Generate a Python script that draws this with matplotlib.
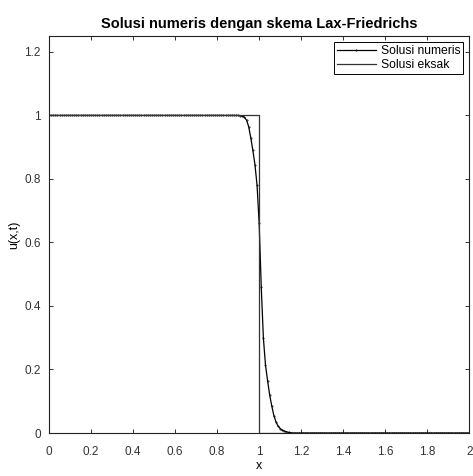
import numpy as np
import matplotlib
matplotlib.use("Agg")
import matplotlib.pyplot as plt

plt.rcParams['font.family'] = ['Liberation Sans', 'DejaVu Sans']

# grid of the numerical scheme, dx = 0.01 on [0, 2]
x_num = np.linspace(0, 2, 201)

# values across the smeared shock, x = 0.91 ... 1.15
u_front = [0.999, 0.998, 0.994, 0.985, 0.965, 0.93, 0.89, 0.845, 0.78,
           0.66, 0.46, 0.30, 0.215, 0.165, 0.12, 0.085, 0.055, 0.035,
           0.022, 0.014, 0.009, 0.006, 0.004, 0.002, 0.001]
u_num = np.concatenate([np.ones(91), u_front, np.zeros(201 - 91 - len(u_front))])

# exact solution: step at x = 1
x_exact = [0, 1, 1, 2]
u_exact = [1, 1, 0, 0]

xticks = np.arange(0, 2.01, 0.2)
yticks = np.arange(0, 1.21, 0.2)

def fmt(v):
    return "%g" % round(v, 2)

fig = plt.figure(figsize=(4.73, 4.76), dpi=100)
ax = fig.add_axes([0.1036, 0.0903, 0.8886, 0.834])

ax.plot(x_num, u_num, '.-', color='black', lw=0.9, ms=0.8, label='Solusi numeris')
ax.plot(x_exact, u_exact, '-', color='#333333', lw=0.9, label='Solusi eksak')

ax.set_xlim(0, 2)
ax.set_ylim(0, 1.25)
ax.set_xticks(xticks)
ax.set_xticklabels([fmt(v) for v in xticks])
ax.set_yticks(yticks)
ax.set_yticklabels([fmt(v) for v in yticks])
ax.tick_params(direction='in', top=True, right=True, length=3, width=0.7,
               labelsize=8.5, colors='#333333')
ax.tick_params(axis='x', pad=9)
ax.tick_params(axis='y', pad=6)
for sp in ax.spines.values():
    sp.set_linewidth(0.8)
    sp.set_color('#222222')

ax.set_title('Solusi numeris dengan skema Lax-Friedrichs', fontsize=10.5,
             fontweight='bold', pad=6)
ax.set_xlabel('x', fontsize=9, labelpad=2)
ax.set_ylabel('u(x,t)', fontsize=9, labelpad=3)

leg = ax.legend(loc='upper right', fontsize=8.7, fancybox=False, framealpha=1,
                edgecolor='black', handlelength=3.2, borderpad=0.25,
                labelspacing=0.15, handletextpad=0.4, borderaxespad=0.5)
leg.get_frame().set_linewidth(0.7)

fig.savefig('out.png', dpi=100)
